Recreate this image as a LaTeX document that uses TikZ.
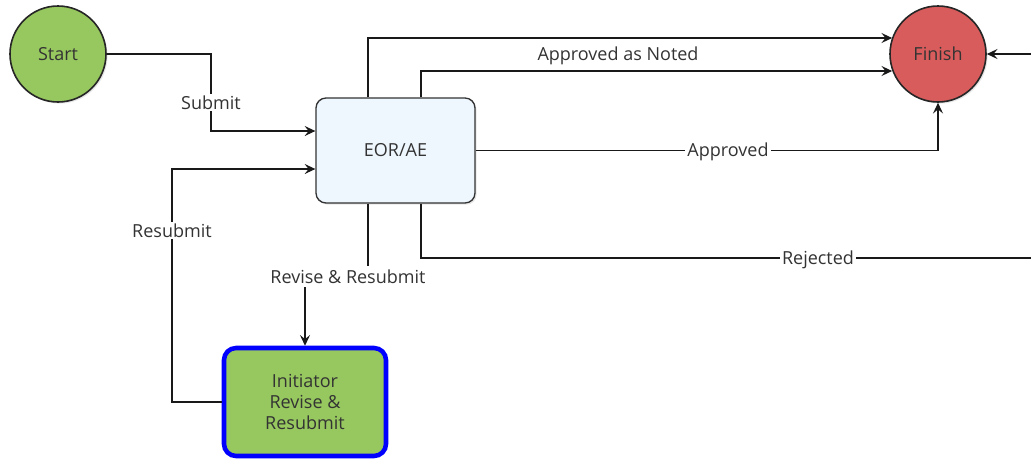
\documentclass[tikz,border=0pt]{standalone}
\usepackage{fontspec}
\setmainfont{Open Sans}
\usetikzlibrary{arrows.meta,shadows}
\definecolor{startgreen}{HTML}{97C85F}
\definecolor{finishred}{HTML}{D95C5C}
\definecolor{eorblue}{HTML}{EEF6FE}
\definecolor{initblue}{HTML}{0000FF}
\definecolor{txt}{HTML}{333333}
\tikzset{
  every node/.style={font=\fontsize{13.5}{15.75}\selectfont, text=txt},
  stateshape/.style={circle, draw=black!85, line width=1.2pt, minimum size=72pt, inner sep=0pt,
    drop shadow={opacity=0.2, shadow xshift=1.2pt, shadow yshift=-1.2pt}},
  eorbox/.style={rectangle, rounded corners=7.5pt, draw=black!80, line width=1pt, fill=eorblue,
    minimum width=119.25pt, minimum height=78.75pt,
    drop shadow={opacity=0.2, shadow xshift=1.2pt, shadow yshift=-1.2pt}},
  initbox/.style={rectangle, rounded corners=9pt, draw=initblue, line width=3.4pt, fill=startgreen,
    minimum width=121.5pt, minimum height=81pt, align=center},
  conn/.style={draw=black!90, line width=0.9pt},
  arr/.style={conn, -{Stealth[length=8pt, width=7.5pt, inset=3pt]}},
  lbl/.style={fill=white, inner sep=1.5pt},
}
\begin{document}
\begin{tikzpicture}[x=0.75pt, y=-0.75pt]
\useasboundingbox (0,0) rectangle (1031,458);

% nodes
\node[stateshape, fill=startgreen] (start) at (58,54) {Start};
\node[stateshape, fill=finishred] (finish) at (938,54) {Finish};
\node[eorbox] (eor) at (395.5,150.5) {EOR/AE};
\node[initbox] (init) at (305,402) {Initiator\\Revise \&\\Resubmit};

% helper coordinates
\coordinate (s1) at (211,131);
\coordinate (r1) at (172,169);
\coordinate (t1) at (368,38);
\coordinate (t2) at (421,71);
\coordinate (v1) at (368,275);
\coordinate (v2) at (305,275);
\coordinate (rj) at (421,258);
\coordinate (edgeA) at (1031,258);
\coordinate (edgeB) at (1031,54);

% connectors
\draw[arr] (start.east) -| (s1) -- (s1 -| eor.west);
\draw[arr] (init.west) -| (r1) -- (r1 -| eor.west);
\draw[arr] (t1 |- eor.north) -- (t1) -- (finish.160.5 |- t1);
\draw[arr] (t2 |- eor.north) -- (t2) -- (finish.200.7 |- t2);
\draw[arr] (eor.east) -| (finish.south);
\draw[arr] (v1 |- eor.south) -- (v1) -- (v2) -- (init.north);
\draw[conn] (rj |- eor.south) -- (rj) -- (edgeA);
\draw[arr] (edgeB) -- (finish.east);

% labels
\node[lbl] at (211,102.5) {Submit};
\node[lbl] at (172,230.5) {Resubmit};
\node[inner sep=1pt] at (618,56) {Approved as Noted};
\node[lbl] at (728,151.5) {Approved};
\node[lbl, inner ysep=3pt] at (348,276.5) {Revise \& Resubmit};
\node[lbl] at (818,259.5) {Rejected};
\end{tikzpicture}
\end{document}
